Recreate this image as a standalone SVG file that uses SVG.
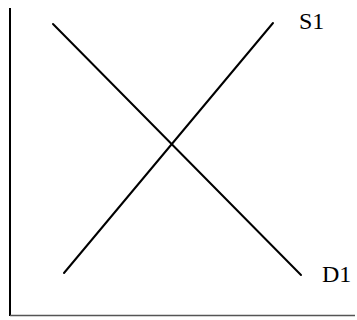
<svg xmlns="http://www.w3.org/2000/svg" width="357" height="320" viewBox="0 0 357 320">
<style>
.curve{stroke:#000;stroke-width:2;fill:none;stroke-linecap:round}
.lbl{font-family:"Liberation Serif","Times New Roman",serif;font-size:24px;fill:#000}
</style>
<rect width="357" height="320" fill="#fff"/>
<g id="axes">
<line x1="10" y1="8" x2="10" y2="316" stroke="#000" stroke-width="2"/>
<line x1="10" y1="315.5" x2="355" y2="315.5" stroke="#555" stroke-width="1.5"/>
</g>
<g id="connectors">
<line id="demand" class="curve" x1="53" y1="24" x2="301" y2="275"/>
<line id="supply" class="curve" x1="64" y1="273" x2="273" y2="23"/>
</g>
<g id="S1"><text class="lbl" x="299" y="29">S1</text></g>
<g id="D1"><text class="lbl" x="322" y="282">D1</text></g>
</svg>
